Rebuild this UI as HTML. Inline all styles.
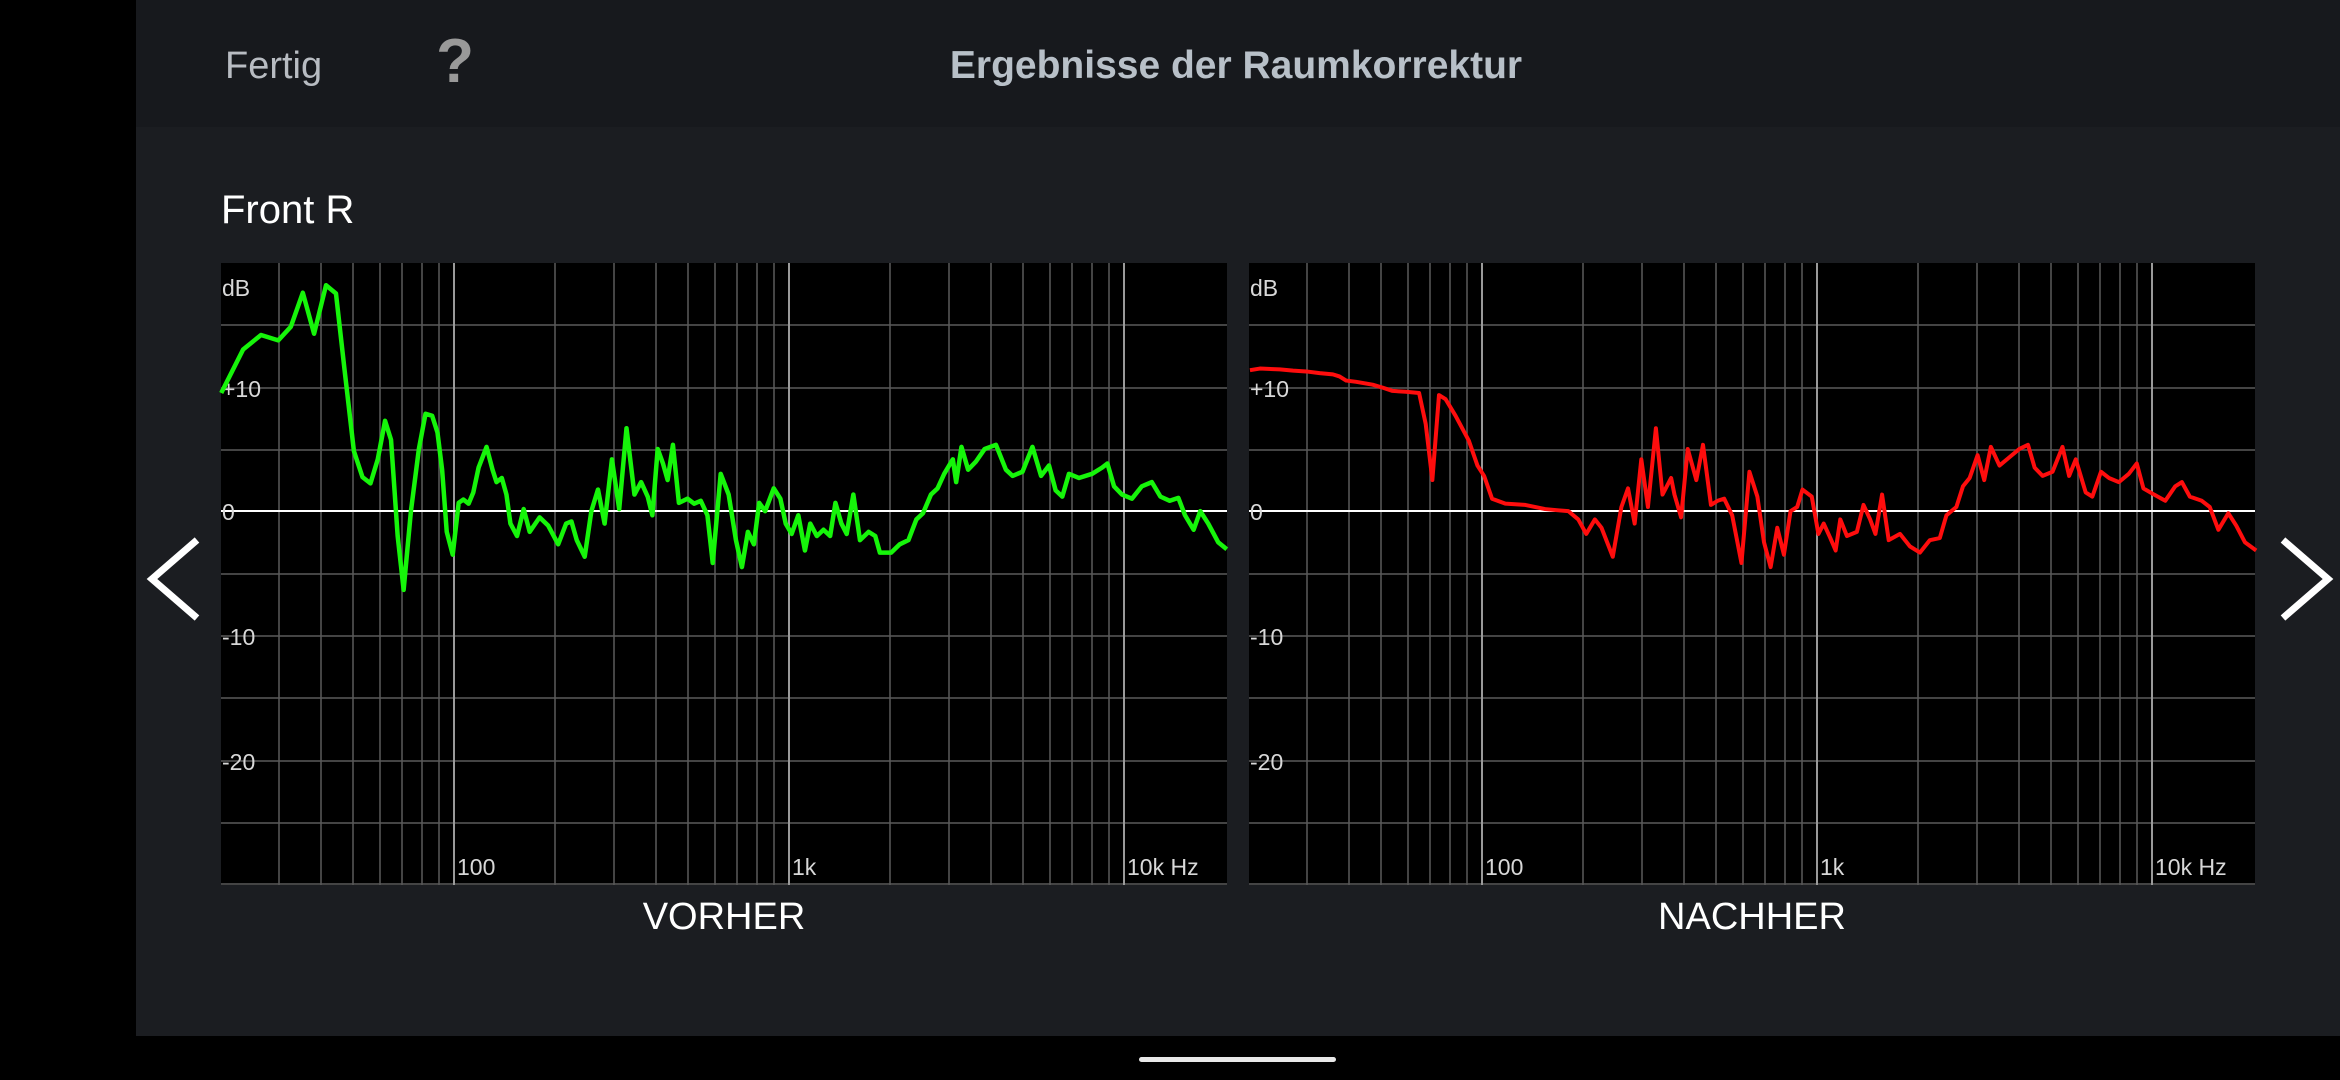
<!DOCTYPE html>
<html><head><meta charset="utf-8"><style>
html,body{margin:0;padding:0;width:2340px;height:1080px;overflow:hidden;background:#000;font-family:"Liberation Sans",sans-serif}
</style></head><body>
<svg width="2340" height="1080" viewBox="0 0 2340 1080" xmlns="http://www.w3.org/2000/svg" style="position:absolute;left:0;top:0">
<rect x="0" y="0" width="2340" height="1080" fill="#000"/>
<rect x="136" y="0" width="2204" height="127" fill="#17191d"/>
<rect x="136" y="127" width="2204" height="909" fill="#1b1d21"/>
<rect x="1139" y="1057" width="197" height="5" rx="2.5" fill="#e8e8e8"/>
<text x="225" y="78" font-size="38" fill="#b8bcc2">Fertig</text>
<text x="455" y="82" font-size="62" font-weight="bold" fill="#999" text-anchor="middle">?</text>
<text x="1236" y="78" font-size="39" font-weight="bold" fill="#b8c0c8" text-anchor="middle">Ergebnisse der Raumkorrektur</text>
<text x="221" y="223" font-size="40" fill="#fff">Front R</text>
<polyline points="197,540 152,579 197,618" fill="none" stroke="#fff" stroke-width="7"/>
<polyline points="2283,540 2328,579 2283,618" fill="none" stroke="#fff" stroke-width="7"/>
<text x="724" y="929" font-size="38" fill="#fff" text-anchor="middle">VORHER</text>
<text x="1752" y="929" font-size="38" fill="#fff" text-anchor="middle">NACHHER</text>
<defs>
<g id="grid">
<rect x="0" y="263" width="1006" height="622" fill="#000"/>
<g stroke="#5a5a5a" stroke-width="1.5">
<line x1="0" y1="325" x2="1006" y2="325"/><line x1="0" y1="388" x2="1006" y2="388"/><line x1="0" y1="450" x2="1006" y2="450"/>
<line x1="0" y1="574" x2="1006" y2="574"/><line x1="0" y1="636" x2="1006" y2="636"/><line x1="0" y1="698" x2="1006" y2="698"/>
<line x1="0" y1="761" x2="1006" y2="761"/><line x1="0" y1="823" x2="1006" y2="823"/><line x1="0" y1="884" x2="1006" y2="884"/>
<line x1="58" y1="263" x2="58" y2="885"/><line x1="100" y1="263" x2="100" y2="885"/><line x1="132" y1="263" x2="132" y2="885"/>
<line x1="159" y1="263" x2="159" y2="885"/><line x1="181" y1="263" x2="181" y2="885"/><line x1="201" y1="263" x2="201" y2="885"/><line x1="218" y1="263" x2="218" y2="885"/>
<line x1="334" y1="263" x2="334" y2="885"/><line x1="393" y1="263" x2="393" y2="885"/><line x1="435" y1="263" x2="435" y2="885"/><line x1="467" y1="263" x2="467" y2="885"/>
<line x1="494" y1="263" x2="494" y2="885"/><line x1="516" y1="263" x2="516" y2="885"/><line x1="536" y1="263" x2="536" y2="885"/><line x1="553" y1="263" x2="553" y2="885"/>
<line x1="669" y1="263" x2="669" y2="885"/><line x1="728" y1="263" x2="728" y2="885"/><line x1="770" y1="263" x2="770" y2="885"/><line x1="802" y1="263" x2="802" y2="885"/>
<line x1="829" y1="263" x2="829" y2="885"/><line x1="851" y1="263" x2="851" y2="885"/><line x1="871" y1="263" x2="871" y2="885"/><line x1="888" y1="263" x2="888" y2="885"/>
</g>
<g stroke="#9a9a9a" stroke-width="2">
<line x1="233" y1="263" x2="233" y2="885"/><line x1="568" y1="263" x2="568" y2="885"/><line x1="903" y1="263" x2="903" y2="885"/>
</g>
<line x1="0" y1="511" x2="1006" y2="511" stroke="#fff" stroke-width="2"/>
<g font-size="23" fill="#d8d8d8">
<text x="1" y="296">dB</text><text x="1" y="397">+10</text><text x="1" y="520">0</text>
<text x="1" y="645">-10</text><text x="1" y="770">-20</text>
<text x="236" y="875">100</text><text x="571" y="875">1k</text><text x="906" y="875">10k Hz</text>
</g>
</g>
</defs>
<use href="#grid" x="221" y="0"/>
<use href="#grid" x="1249" y="0"/>
<g transform="translate(200,250) scale(0.6633,0.4145)">
<polyline fill="none" stroke="#16f50a" stroke-width="4.5" stroke-linejoin="round" vector-effect="non-scaling-stroke" points="32,345 65,240 92,205 118,218 137,185 155,103 172,202 190,85 205,105 218,290 232,485 245,548 257,563 268,505 279,412 288,458 298,690 307,820 318,630 330,480 340,395 350,400 358,440 365,530 372,680 381,735 390,610 397,602 405,612 412,585 420,525 432,475 441,530 447,560 455,550 462,590 468,660 478,690 488,625 497,680 512,645 525,665 540,710 552,660 560,655 568,700 580,740 590,630 600,578 610,660 621,505 632,625 643,430 655,590 665,560 675,595 682,640 690,480 698,515 705,555 713,470 722,610 735,600 745,612 755,605 765,640 773,755 785,540 797,590 808,700 817,765 826,680 835,710 843,610 852,630 865,575 875,600 883,660 892,685 902,640 912,725 920,660 930,690 940,675 950,690 958,610 967,660 975,685 985,590 995,700 1008,680 1018,690 1025,730 1042,730 1055,710 1068,700 1080,650 1090,635 1102,590 1112,575 1122,540 1135,505 1140,560 1148,475 1158,530 1170,510 1183,480 1200,470 1215,530 1225,545 1240,535 1255,475 1268,545 1280,520 1290,580 1300,595 1310,540 1325,550 1345,540 1360,525 1368,515 1378,570 1390,590 1405,600 1420,570 1435,560 1448,595 1462,605 1475,598 1485,640 1498,675 1508,630 1520,660 1535,705 1548,722"/>
</g>
<g transform="translate(1240,250) scale(0.6633,0.4145)">
<polyline fill="none" stroke="#ff0d0d" stroke-width="4" stroke-linejoin="round" vector-effect="non-scaling-stroke" points="15,290 30,286 60,288 80,291 100,293 120,297 140,300 150,305 160,315 175,318 200,325 215,332 230,340 250,342 270,345 280,420 290,555 300,350 310,360 325,400 345,460 358,520 368,545 380,600 400,612 430,615 460,625 480,628 495,630 510,650 522,685 535,650 545,670 562,740 575,620 585,575 595,660 605,505 615,620 627,430 637,590 650,550 655,590 665,645 675,480 688,555 698,470 710,615 720,605 730,600 742,640 756,755 768,535 780,595 790,705 800,765 810,670 820,735 830,630 840,620 848,578 862,595 872,685 880,660 890,695 898,725 905,650 915,690 930,680 940,615 950,650 958,685 968,590 978,700 995,685 1010,715 1025,730 1040,700 1055,695 1065,640 1080,620 1090,570 1100,550 1112,495 1122,555 1132,475 1145,520 1160,500 1175,480 1188,470 1198,525 1210,545 1225,535 1240,475 1250,545 1260,505 1275,585 1285,595 1298,535 1310,550 1325,560 1340,540 1352,515 1362,575 1378,590 1395,605 1410,570 1420,560 1432,595 1450,605 1462,620 1475,675 1490,635 1502,665 1515,705 1532,725"/>
</g>
</svg>
</body></html>
